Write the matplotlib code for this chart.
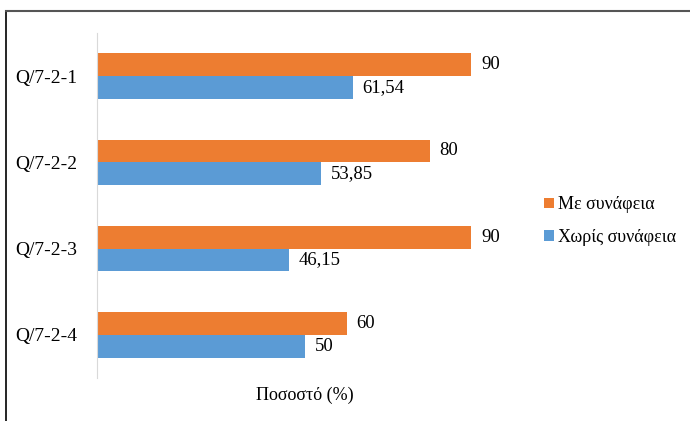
import matplotlib.pyplot as plt
from matplotlib.lines import Line2D

categories = ["Q/7-2-1", "Q/7-2-2", "Q/7-2-3", "Q/7-2-4"]
with_rel = [90, 80, 90, 60]
without_rel = [61.54, 53.85, 46.15, 50]
with_lbl = ["90", "80", "90", "60"]
without_lbl = ["61,54", "53,85", "46,15", "50"]
series_names = ["Με συνάφεια", "Χωρίς συνάφεια"]

orange = "#ED7D31"
blue = "#5B9BD5"

plt.rcParams["font.family"] = ["Liberation Serif", "DejaVu Serif"]

fig = plt.figure(figsize=(6.9, 4.21), dpi=100)
ax = fig.add_axes([97 / 690, 1 - 378 / 421, (513 - 97) / 690, (378 - 33) / 421])

h = 0.265
pos = list(range(len(categories)))
ax.barh([p - h / 2 for p in pos], with_rel, height=h, color=orange, label=series_names[0])
ax.barh([p + h / 2 for p in pos], without_rel, height=h, color=blue, label=series_names[1])

for p, v, t in zip(pos, with_rel, with_lbl):
    ax.text(v + 2.3, p - h / 2, t, va="center", ha="left", fontsize=13.5)
for p, v, t in zip(pos, without_rel, without_lbl):
    ax.text(v + 2.3, p + h / 2, t, va="center", ha="left", fontsize=13.5)

ax.set_xlim(0, 100)
ax.set_ylim(3.5, -0.5)
ax.set_yticks(pos)
ax.set_yticklabels(categories, fontsize=14)
ax.set_xticks([])
ax.tick_params(axis="y", length=0, pad=14)
for s in ("top", "right", "bottom"):
    ax.spines[s].set_visible(False)
ax.spines["left"].set_color("#D9D9D9")
ax.set_xlabel("Ποσοστό (%)", fontsize=13, labelpad=6)

leg = fig.legend(loc="center left", bbox_to_anchor=(544 / 690, 1 - 221 / 421), frameon=False,
                 fontsize=13, handlelength=0.55, handleheight=0.55, handletextpad=0.2,
                 labelspacing=0.85, borderpad=0, borderaxespad=0)

# outer frame (left and top only)
fig.add_artist(Line2D([6 / 690, 6 / 690], [0, 1 - 11 / 421], color="black", lw=1.2, transform=fig.transFigure))
fig.add_artist(Line2D([6 / 690, 1], [1 - 11 / 421, 1 - 11 / 421], color="#555555", lw=1.5, transform=fig.transFigure))

fig.savefig("out.png", dpi=100)
